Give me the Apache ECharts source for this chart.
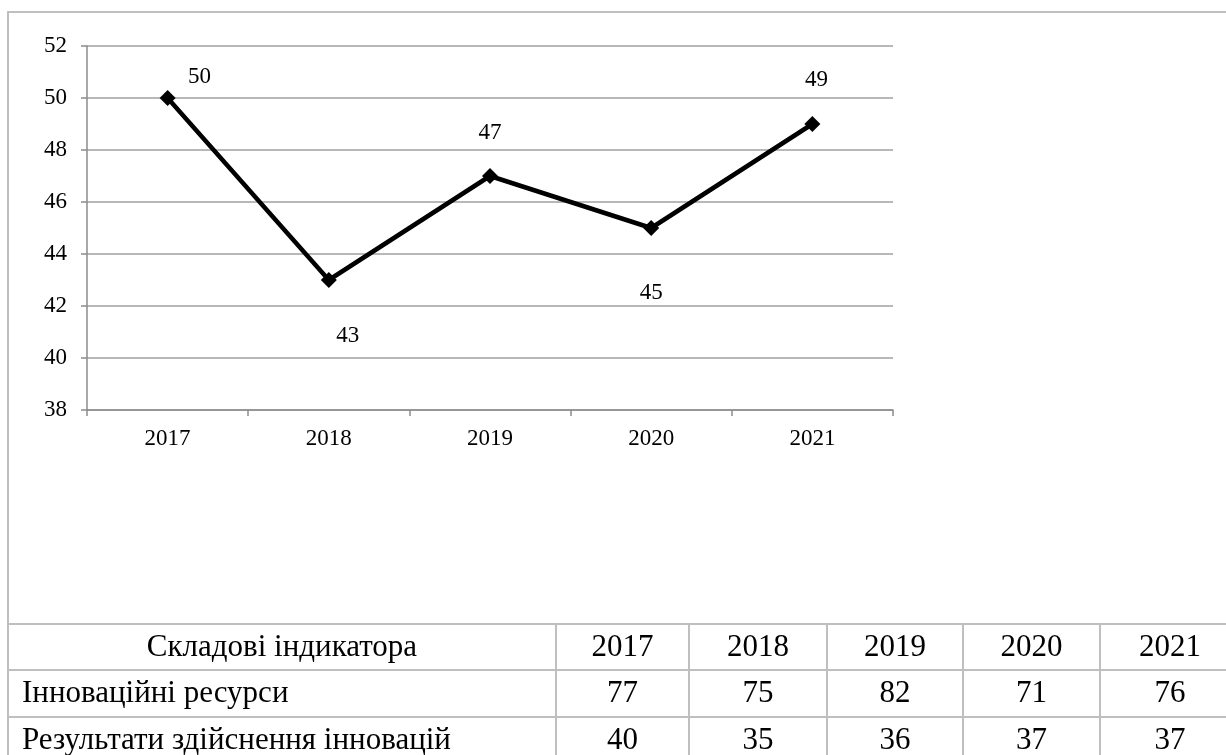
<!DOCTYPE html>
<html>
<head>
<meta charset="utf-8">
<script src="https://cdn.jsdelivr.net/npm/echarts@6/dist/echarts.min.js"></script>
<style>
html,body{margin:0;padding:0;background:#fff;}
#chart{width:1226px;height:755px;}
</style>
</head>
<body>
<div id="chart"></div>
<script>
// ---- data ----
const years = ['2017', '2018', '2019', '2020', '2021'];
const indicatorValues = [50, 43, 47, 45, 49];
const yTicks = [38, 40, 42, 44, 46, 48, 50, 52];
const tableHeaderTitle = 'Складові індикатора';
const rowNames = ['Інноваційні ресурси', 'Результати здійснення інновацій'];
const resourcesRow = [77, 75, 82, 71, 76];
const resultsRow = [40, 35, 36, 37, 37];

// ---- layout (not data) ----
const labelOffsets = [[32, -21], [19, 56], [0, -43], [0, 65], [4, -44]];
const FONT = '"Liberation Serif", "Times New Roman", serif';
const BORDER = '#bfbfbf';
const colX = [8, 556, 689, 827, 963, 1100, 1240];
const rowY = [624, 670, 717, 765];

const chart = echarts.init(document.getElementById('chart'), null, {renderer: 'canvas'});

const graphics = [];
// outer frame
graphics.push({type: 'rect', z: 0, shape: {x: 8, y: 12, width: 1240, height: 760},
  style: {fill: 'none', stroke: BORDER, lineWidth: 2}, silent: true});
// table horizontal lines
rowY.slice(0, 3).forEach(y => graphics.push({type: 'line', z: 0,
  shape: {x1: 8, y1: y, x2: 1240, y2: y}, style: {stroke: BORDER, lineWidth: 2}, silent: true}));
// table vertical lines
colX.slice(1, 6).forEach(x => graphics.push({type: 'line', z: 0,
  shape: {x1: x, y1: rowY[0], x2: x, y2: 770}, style: {stroke: BORDER, lineWidth: 2}, silent: true}));

function cellText(text, x, y, align) {
  graphics.push({type: 'text', z: 1, x: x, y: y, silent: true,
    style: {text: String(text), font: '31px ' + FONT, fill: '#000',
      align: align, verticalAlign: 'middle'}});
}
const rowMid = i => (rowY[i] + rowY[i + 1]) / 2;
const colMid = j => (colX[j] + colX[j + 1]) / 2;
cellText(tableHeaderTitle, colMid(0), rowMid(0) + 1, 'center');
years.forEach((y, j) => cellText(y, colMid(j + 1), rowMid(0) + 1, 'center'));
cellText(rowNames[0], 22, rowMid(1), 'left');
resourcesRow.forEach((v, j) => cellText(v, colMid(j + 1), rowMid(1), 'center'));
cellText(rowNames[1], 22, 741, 'left');
resultsRow.forEach((v, j) => cellText(v, colMid(j + 1), 741, 'center'));

const seriesData = indicatorValues.map((v, i) => ({
  value: v,
  label: {offset: labelOffsets[i]}
}));

chart.setOption({
  animation: false,
  backgroundColor: '#fff',
  grid: {left: 87, right: 333, top: 46, bottom: 345, containLabel: false},
  xAxis: {
    type: 'category',
    data: years,
    boundaryGap: true,
    axisLine: {show: true, lineStyle: {color: '#8c8c8c', width: 1.5}},
    axisTick: {show: true, alignWithLabel: false, length: 6, inside: false,
      lineStyle: {color: '#8c8c8c', width: 1.5}},
    axisLabel: {color: '#000', fontFamily: FONT, fontSize: 23, margin: 17},
    splitLine: {show: false}
  },
  yAxis: {
    type: 'value',
    min: yTicks[0],
    max: yTicks[yTicks.length - 1],
    interval: yTicks[1] - yTicks[0],
    axisLine: {show: true, lineStyle: {color: '#8c8c8c', width: 1.5}},
    axisTick: {show: true, length: 6, lineStyle: {color: '#8c8c8c', width: 1.5}},
    axisLabel: {color: '#000', fontFamily: FONT, fontSize: 23, margin: 20},
    splitLine: {show: true, lineStyle: {color: '#a0a0a0', width: 1.5}}
  },
  series: [{
    type: 'line',
    data: seriesData,
    symbol: 'diamond',
    symbolSize: 16,
    lineStyle: {color: '#000', width: 4.5},
    itemStyle: {color: '#000'},
    label: {show: true, position: 'inside', color: '#000',
      fontFamily: FONT, fontSize: 23, align: 'center', verticalAlign: 'middle'},
    z: 5
  }],
  graphic: graphics
});
</script>
</body>
</html>
